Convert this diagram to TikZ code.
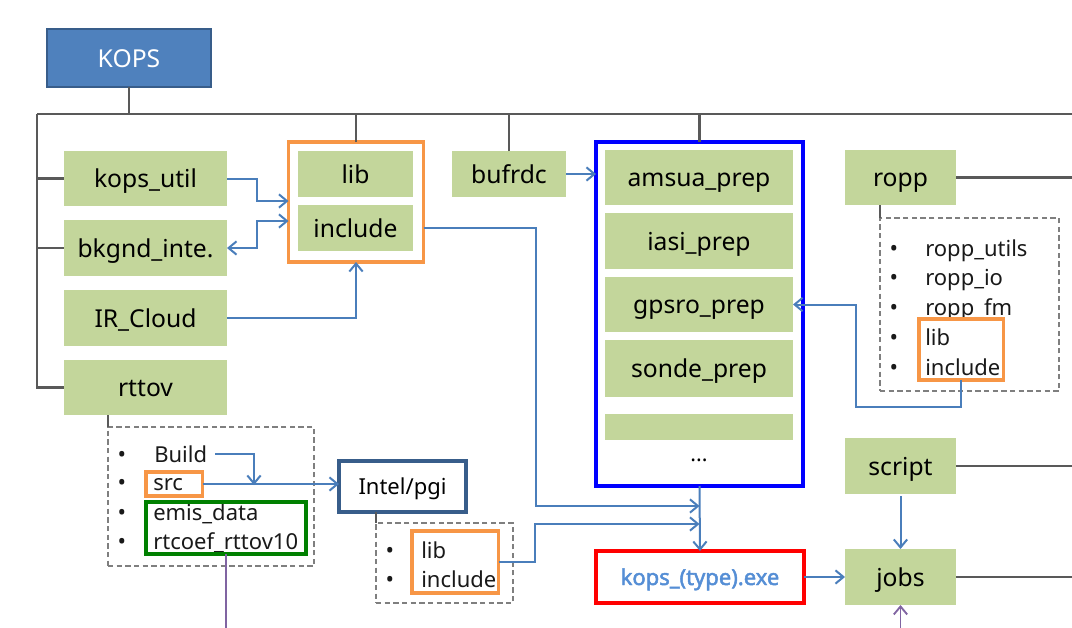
\documentclass[tikz,border=0pt]{standalone}
\usepackage{fontspec}
\setmainfont{Noto Sans}
\newfontfamily\exefont{Noto Sans}[FakeBold=2.2]
\usetikzlibrary{arrows.meta}
\definecolor{gfill}{HTML}{C3D69B}
\definecolor{kopsfill}{HTML}{4F81BD}
\definecolor{kopsdraw}{HTML}{385D8A}
\definecolor{orng}{HTML}{F79646}
\definecolor{arrblue}{HTML}{4A7EBB}
\definecolor{treegray}{HTML}{595959}
\definecolor{dashgray}{HTML}{7F7F7F}
\definecolor{purp}{HTML}{8064A2}
\definecolor{exeblue}{HTML}{558ED5}
\definecolor{pureblue}{HTML}{0000FF}
\definecolor{purered}{HTML}{FF0000}
\definecolor{grframecol}{HTML}{008000}
\begin{document}
\begin{tikzpicture}[x=0.75pt,y=-0.75pt,
  rect/.style n args={4}{minimum width={(#3-#1)*0.75pt}, minimum height={(#4-#2)*0.75pt},
                         at={({(#1+#3)/2},{(#2+#4)/2})}, inner sep=0pt, outer sep=0pt},
  box/.style={text height=13.5pt, text depth=0pt, font=\fontsize{18.5}{22}\selectfont},
  gbox/.style={box, fill=gfill},
  kopsbox/.style={box, fill=kopsfill, draw=kopsdraw, line width=1.8pt, text=white},
  orbox/.style={draw=orng, line width=2.6pt, fill=white},
  orframe/.style={draw=orng, line width=2.3pt},
  grframe/.style={draw=grframecol, line width=2.3pt},
  dashbox/.style={draw=dashgray, line width=1.2pt, dash pattern=on 4pt off 2.5pt},
  tree/.style={draw=treegray, line width=1.7pt},
  thintree/.style={draw=treegray, line width=1.2pt},
  arr/.style={draw=arrblue, line width=1.5pt, -{Straight Barb[length=6pt,width=10pt]}},
  arrb/.style={draw=arrblue, line width=1.5pt, {Straight Barb[length=6pt,width=10pt]}-{Straight Barb[length=6pt,width=10pt]}},
  purpline/.style={draw=purp, line width=1.4pt},
  purparr/.style={draw=purp, line width=1.4pt, -{Straight Barb[length=6pt,width=10pt]}},
  listtxt/.style={anchor=base west, inner sep=0pt, font=\fontsize{16.5}{20}\selectfont, text=black!90},
  bul/.style={anchor=base, inner sep=0pt, font=\fontsize{17}{20}\selectfont, text=black!90}
]
\useasboundingbox (0,0) rectangle (1072,628);

% ---------- main boxes ----------
\node[kopsbox, rect={47}{29}{211}{87}] (kops) {KOPS};
\node[gbox, rect={64}{151}{227}{206}] (kopsutil) {kops\_util};
\node[gbox, rect={64}{220}{227}{276}] (bkgnd) {bkgnd\_inte.};
\node[gbox, rect={64}{290}{227}{346}] (ircloud) {IR\_Cloud};
\node[gbox, rect={64}{360}{227}{415}] (rttov) {rttov};

\node[orbox, rect={288.5}{142}{423.5}{262}] (orange) {};
\node[gbox, rect={298}{151}{413}{197}] (lib) {lib};
\node[gbox, rect={298}{205}{413}{251}] (include) {include};

\node[gbox, rect={452}{151}{566}{197}] (bufrdc) {bufrdc};

\node[draw=pureblue, line width=2.6pt, rect={596}{142}{803}{486}] (blue) {};
\node[gbox, rect={605}{150}{793}{205}] (amsua) {amsua\_prep};
\node[gbox, rect={605}{213}{793}{269}] (iasi) {iasi\_prep};
\node[gbox, rect={605}{277}{793}{332}] (gpsro) {gpsro\_prep};
\node[gbox, rect={605}{340}{793}{397}] (sonde) {sonde\_prep};
\node[gbox, rect={605}{414}{793}{440}] (emptybox) {};
\node[inner sep=0pt, font=\fontsize{16}{20}\selectfont] (dots) at (699,460) {...};

\node[gbox, rect={845}{150}{956}{205}] (ropp) {ropp};
\node[gbox, rect={845}{438}{956}{494}] (script) {script};
\node[gbox, rect={845}{549}{956}{605}] (jobs) {jobs};

\node[draw=purered, line width=2.6pt, rect={596}{551}{804}{603},
      text=exeblue, text height=12pt, text depth=0pt, font=\exefont\fontsize{16.5}{20}\selectfont] (red) {kops\_(type).exe};

\node[draw=kopsdraw, line width=2.4pt, rect={339}{461}{466}{512},
      text height=12pt, text depth=0pt, font=\fontsize{16.5}{20}\selectfont] (intel) {Intel/pgi};

% ---------- rttov list ----------
\node[dashbox, rect={108}{427}{314}{566}] (rttovlist) {};
\node[bul] (rb1) at (122,462) {•};
\node[bul] (rb2) at (122,490) {•};
\node[bul] (rb3) at (122,520) {•};
\node[bul] (rb4) at (122,549) {•};
\node[listtxt] (build) at (154,462) {Build};
\node[listtxt] (src) at (153,490) {src};
\node[listtxt] (emis) at (153,520) {emis\_data};
\node[listtxt] (rtcoef) at (153,549) {rtcoef\_rttov10};
\node[orframe, rect={146}{472}{202.5}{496}] (srcbox) {};
\node[grframe, rect={146}{502}{306}{554}] (greenbox) {};

% ---------- ropp list ----------
\node[dashbox, rect={880}{218}{1059}{391}] (ropplist) {};
\node[bul] (pb1) at (894,256) {•};
\node[bul] (pb2) at (894,285) {•};
\node[bul] (pb3) at (894,315) {•};
\node[bul] (pb4) at (894,345) {•};
\node[bul] (pb5) at (894,375) {•};
\node[listtxt] (rutils) at (925,256) {ropp\_utils};
\node[listtxt] (rio) at (925,285) {ropp\_io};
\node[listtxt] (rfm) at (925,315) {ropp\_fm};
\node[listtxt] (rlib) at (925,345) {lib};
\node[listtxt] (rinc) at (925,375) {include};
\node[orframe, rect={919}{319}{1003.5}{380}] (ropporange) {};

% ---------- intel list ----------
\node[dashbox, rect={376}{523}{513}{603}] (intellist) {};
\node[bul] (ib1) at (390,558) {•};
\node[bul] (ib2) at (390,587) {•};
\node[listtxt] (ilib) at (421,558) {lib};
\node[listtxt] (iinc) at (421,587) {include};
\node[orframe, rect={412}{531}{498.6}{593}] (intelor) {};

% ---------- tree lines ----------
\coordinate (tl) at (37,114);
\coordinate (tr) at (1072,114);
\coordinate (bot) at (0,628);
\draw[tree] (kops.south) -- (kops.south |- tl);
\draw[tree] (tl) -- (tr);
\draw[tree] (tl) |- (rttov.west);
\draw[tree] (tl |- kopsutil.west) -- (kopsutil.west);
\draw[tree] (tl |- bkgnd.west) -- (bkgnd.west);
\draw[tree] (orange.north) -- (orange.north |- tl);
\draw[tree] (bufrdc.north) -- (bufrdc.north |- tl);
\draw[tree] (blue.north) -- (blue.north |- tl);
\draw[tree] (ropp.east) -- (ropp.east -| tr);
\draw[tree] (script.east) -- (script.east -| tr);
\draw[tree] (jobs.east) -- (jobs.east -| tr);
\draw[thintree] (ropp.south -| ropplist.west) -- (ropplist.north west);
\draw[thintree] (rttov.south -| rttovlist.west) -- (rttovlist.north west);
\draw[thintree] (intel.south -| intellist.west) -- (intellist.north west);

% ---------- arrows ----------
\coordinate (j1) at (257,201);
\coordinate (j2) at (257,221);
\draw[arr] (kopsutil.east) -| (j1) -- (j1 -| orange.west);
\draw[arrb] (bkgnd.east) -| (j2) -- (j2 -| orange.west);
\draw[arr] (ircloud.east) -| (orange.south);

\coordinate (c1) at (536,506);
\coordinate (m1) at (699.5,506);
\draw[arr] (include.east -| orange.east) -| (c1) -- (m1);
\coordinate (c2) at (535,524);
\coordinate (m2) at (699.5,524);
\draw[arr] (intelor.east) -| (c2) -- (m2);
\draw[arr] (blue.south) -- (red.north);

\draw[arr] (bufrdc.east) -- (bufrdc.east -| blue.west);

\coordinate (r1) at (961,407);
\coordinate (r2) at (856,304.5);
\draw[arr] (ropporange.south) -- (ropporange.south |- r1) -| (r2) -- (gpsro.east);

\coordinate (bj) at (254,485);
\draw[arr, shorten <=6pt] (build.east) -| (bj);
\draw[arr] (srcbox.east) -- (srcbox.east -| intel.west);

\draw[arr] (red.east) -- (jobs.west);
\draw[arr, shorten <=1.5pt] (script.south) -- (jobs.north);

\draw[purpline] (greenbox.south) -- (greenbox.south |- bot);
\draw[purparr] (jobs.south |- bot) -- (jobs.south);
\end{tikzpicture}
\end{document}
